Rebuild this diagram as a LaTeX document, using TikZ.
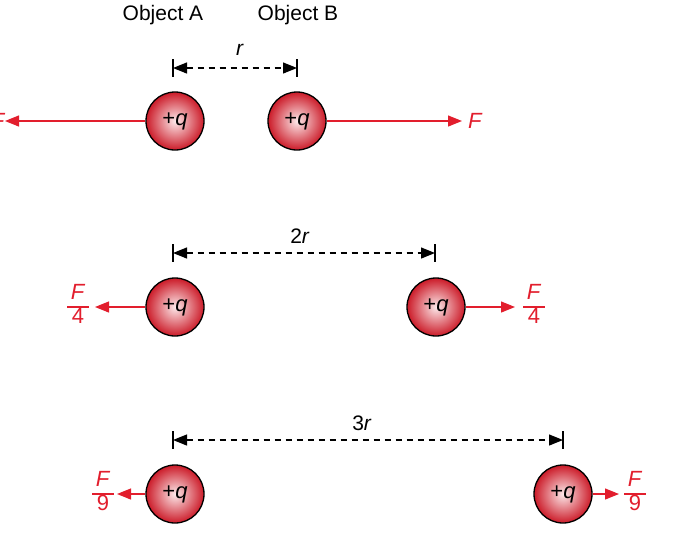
\documentclass[tikz,border=0pt]{standalone}
\usepackage{fontspec}
\setmainfont{Liberation Sans}
\usetikzlibrary{arrows.meta}
\definecolor{fred}{RGB}{226,30,45}
\newcommand{\myfrac}[2]{{\setlength{\arrayrulewidth}{1.2pt}\renewcommand{\arraystretch}{0.95}\begin{tabular}{@{\,}c@{\,}}\textit{#1}\\\hline #2\end{tabular}}}
\tikzset{
 ball/.style={circle,draw=black,line width=1.3pt,minimum size=58pt,inner sep=0pt,
   inner color=white!90!fred,outer color=fred!90!black,font=\fontsize{22}{24}\selectfont},
 force/.style={draw=fred,line width=1.2pt,-{Triangle[length=14pt,width=11pt]}},
 flab/.style={text=fred,font=\fontsize{22}{24}\selectfont,inner sep=0pt},
 dim/.style={dashed,dash pattern=on 6pt off 5pt,line width=1.2pt,{Triangle[length=14pt,width=11pt]}-{Triangle[length=14pt,width=11pt]}},
 tick/.style={line width=1.2pt},
 lab/.style={font=\fontsize{21}{23}\selectfont}
}
\begin{document}
\begin{tikzpicture}[x=1pt,y=-1pt]
\useasboundingbox (0,0) rectangle (699,539);
% row 1
\node[ball] (a1) at (175,121) {+\textit{q}};
\node[ball] (b1) at (297,121) {+\textit{q}};
\coordinate (fa1) at (5,121); \coordinate (fb1) at (462,121);
\draw[force] (a1.west) -- (fa1);
\draw[force] (b1.east) -- (fb1);
\node[flab] (la1) at (-2,121) {\textit{F}};
\node[flab,anchor=west] (lb1) at (468,121) {\textit{F}};
\coordinate (t1a) at (173,68); \coordinate (t1b) at (297,68);
\draw[tick] (173,59) -- (173,77); \draw[tick] (297,59) -- (297,77);
\draw[dim] (t1a) -- (t1b);
\node[lab] (r1) at (240,50) {\textit{r}};
\node[lab] (oa) at (163,15) {Object A};
\node[lab] (ob) at (298,15) {Object B};
% row 2
\node[ball] (a2) at (175,307) {+\textit{q}};
\node[ball] (b2) at (436,307) {+\textit{q}};
\coordinate (fa2) at (95,307); \coordinate (fb2) at (515,307);
\draw[force] (a2.west) -- (fa2);
\draw[force] (b2.east) -- (fb2);
\node[flab] (la2) at (78,307) {\myfrac{F}{4}};
\node[flab] (lb2) at (534,307) {\myfrac{F}{4}};
\coordinate (t2a) at (173,253); \coordinate (t2b) at (435,253);
\draw[tick] (173,244) -- (173,262); \draw[tick] (435,244) -- (435,262);
\draw[dim] (t2a) -- (t2b);
\node[lab] (r2) at (300,236) {2\textit{r}};
% row 3
\node[ball] (a3) at (175,494) {+\textit{q}};
\node[ball] (b3) at (563,494) {+\textit{q}};
\coordinate (fa3) at (117,494); \coordinate (fb3) at (619,494);
\draw[force] (a3.west) -- (fa3);
\draw[force] (b3.east) -- (fb3);
\node[flab] (la3) at (103,494) {\myfrac{F}{9}};
\node[flab] (lb3) at (635,494) {\myfrac{F}{9}};
\coordinate (t3a) at (173,440); \coordinate (t3b) at (563,440);
\draw[tick] (173,431) -- (173,449); \draw[tick] (563,431) -- (563,449);
\draw[dim] (t3a) -- (t3b);
\node[lab] (r3) at (362,423) {3\textit{r}};
\end{tikzpicture}
\end{document}
